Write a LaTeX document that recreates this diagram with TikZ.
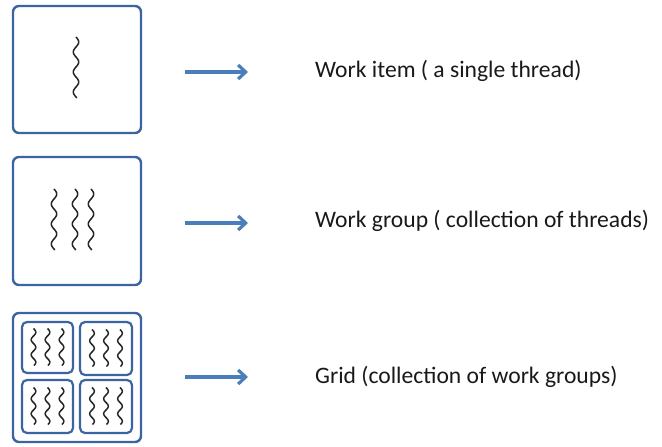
\documentclass[tikz,border=0pt]{standalone}
\usepackage{fontspec}
\setmainfont{Carlito}
\usetikzlibrary{arrows.meta}
\definecolor{boxblue}{HTML}{3B64A0}
\definecolor{arrblue}{HTML}{4A7EBB}
\tikzset{
  frame/.style={draw=boxblue, line width=2.4pt, rounded corners=6pt, fill=white, inner sep=0pt},
  inner/.style={draw=boxblue, line width=2.2pt, rounded corners=5pt, inner sep=0pt},
  thread/.style={line width=1.5pt, black!85},
  arr/.style={draw=arrblue, line width=3.6pt, -{Straight Barb[length=7.5pt,width=14pt,line width=3.2pt]}},
  lbl/.style={anchor=base west, font=\fontsize{23.6}{27}\selectfont, inner sep=0pt, text=black!90},
  pics/bigthread/.style={code={\draw[thread] plot[domain=0:61,samples=80,smooth] ({2.7*sin(\x*18)},\x);}},
  pics/smallthread/.style={code={\draw[thread] plot[domain=0:37,samples=60,smooth] ({2.3*sin(\x*24)},\x);}}
}
\begin{document}
\begin{tikzpicture}[x=1pt,y=-1pt]
\useasboundingbox (0,0) rectangle (662,447);
% boxes
\node[frame, minimum width=128pt, minimum height=127pt] (b1) at (77,69.5) {};
\node[frame, minimum width=128pt, minimum height=128pt] (b2) at (77,221) {};
\node[frame, minimum width=128pt, minimum height=129pt] (b3) at (77,377.5) {};
% threads
\pic at (76,37) {bigthread};
\pic at (54,189) {bigthread};
\pic at (75,189) {bigthread};
\pic at (91,189) {bigthread};
% inner boxes
\node[inner, minimum width=51pt, minimum height=51pt] (g1) at (47.5,347.5) {};
\node[inner, minimum width=52pt, minimum height=53pt] (g2) at (106,348.5) {};
\node[inner, minimum width=51pt, minimum height=53pt] (g3) at (47.5,406.5) {};
\node[inner, minimum width=52pt, minimum height=53pt] (g4) at (106,406.5) {};
\foreach \g in {g1,g2,g3,g4}{
  \foreach \dx in {-14,0,14}{
    \pic at ([xshift=\dx pt, yshift=19pt]\g.center) {smallthread};
  }
}
% labels
\node[lbl] (t1) at (315,77) {Work item ( a single thread)};
\node[lbl] (t2) at (315,227) {Work group ( collection of threads)};
\node[lbl] (t3) at (315,383) {Grid (collection of work groups)};
% arrows
\coordinate (a1s) at (185,72); \coordinate (a1e) at (248,72);
\coordinate (a2s) at (185,223); \coordinate (a2e) at (248,223);
\coordinate (a3s) at (185,377); \coordinate (a3e) at (248,377);
\draw[arr] (a1s) -- (a1e);
\draw[arr] (a2s) -- (a2e);
\draw[arr] (a3s) -- (a3e);
\end{tikzpicture}
\end{document}
